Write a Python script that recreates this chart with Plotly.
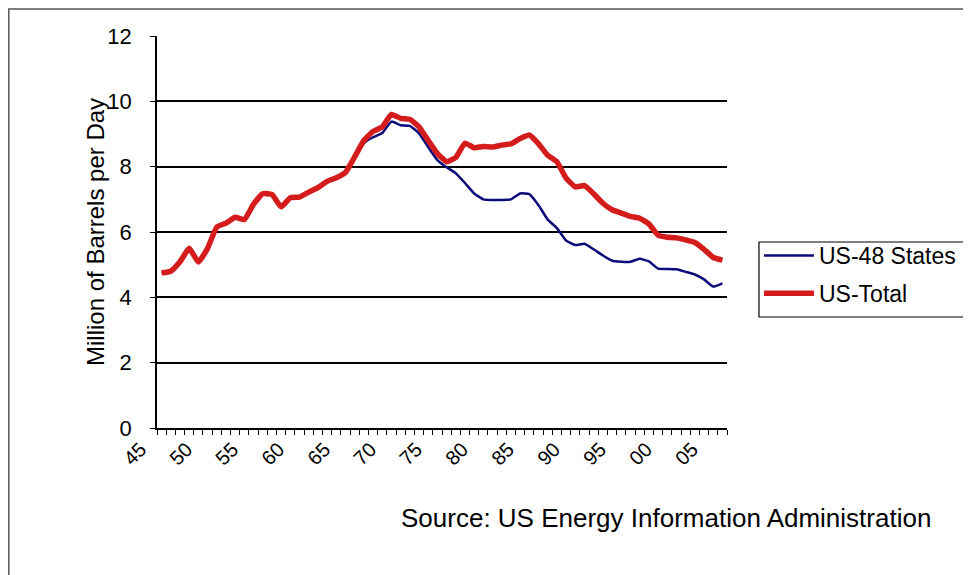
import plotly.graph_objects as go

years = list(range(1945, 2007))

us_total = [4.75, 4.80, 5.09, 5.50, 5.08, 5.50, 6.15, 6.27, 6.45, 6.38,
            6.85, 7.17, 7.15, 6.77, 7.05, 7.07, 7.22, 7.36, 7.55, 7.66,
            7.82, 8.30, 8.80, 9.08, 9.22, 9.60, 9.48, 9.45, 9.22, 8.80,
            8.40, 8.15, 8.28, 8.72, 8.58, 8.62, 8.60, 8.66, 8.70, 8.86,
            8.97, 8.70, 8.35, 8.15, 7.65, 7.38, 7.42, 7.17, 6.88, 6.68,
            6.58, 6.48, 6.42, 6.25, 5.90, 5.84, 5.82, 5.76, 5.68, 5.47,
            5.22, 5.14]

us_48 = [4.75, 4.80, 5.09, 5.50, 5.08, 5.50, 6.15, 6.27, 6.45, 6.38,
         6.85, 7.17, 7.15, 6.77, 7.05, 7.06, 7.20, 7.33, 7.52, 7.63,
         7.79, 8.26, 8.72, 8.90, 9.03, 9.38, 9.27, 9.25, 9.02, 8.60,
         8.20, 7.98, 7.80, 7.50, 7.18, 7.00, 6.98, 6.98, 7.00, 7.18,
         7.16, 6.82, 6.38, 6.12, 5.74, 5.60, 5.64, 5.47, 5.28, 5.12,
         5.09, 5.09, 5.18, 5.10, 4.88, 4.87, 4.86, 4.78, 4.70, 4.55,
         4.33, 4.43]

tick_years = [1945, 1950, 1955, 1960, 1965, 1970, 1975, 1980, 1985, 1990, 1995, 2000, 2005]
tick_text = ["45", "50", "55", "60", "65", "70", "75", "80", "85", "90", "95", "00", "05"]

FONT = "Liberation Sans, Arial, Helvetica, sans-serif"

fig = go.Figure()
fig.add_trace(go.Scatter(
    x=years, y=us_48, name="US-48 States", mode="lines", legendgroup="a",
    line=dict(color="#0b0b7a", width=2.5, shape="spline", smoothing=0.4)))
fig.add_trace(go.Scatter(
    x=years, y=us_total, name="US-Total", mode="lines", legendgroup="b",
    line=dict(color="#d41c1c", width=5.5, shape="spline", smoothing=0.4)))

fig.update_layout(
    width=971, height=575,
    margin=dict(l=149, r=252, t=28, b=155),
    paper_bgcolor="white", plot_bgcolor="white",
    font=dict(family=FONT, color="black"),
    showlegend=True,
    legend=dict(x=1.0561, y=0.4949, xanchor="left", yanchor="top",
                borderwidth=0, bgcolor="rgba(0,0,0,0)",
                itemwidth=50, tracegroupgap=5, traceorder="grouped",
                font=dict(size=23, family=FONT, color="black")),
    xaxis=dict(range=[1944.5, 2006.5], tickvals=tick_years, ticktext=tick_text,
               tickangle=-45, ticks="", showline=True, linecolor="black", linewidth=1.5,
               showgrid=False, zeroline=False, ticklabelshift=-21,
               tickfont=dict(size=20, family=FONT, color="black"),
               minor=dict(ticks="outside", ticklen=5, tickcolor="black", tickwidth=1,
                          tick0=1944.5, dtick=1, showgrid=False)),
    yaxis=dict(range=[0, 12], dtick=2, ticks="outside", ticklen=5, tickcolor="black",
               showline=True, linecolor="black", linewidth=1.5,
               showgrid=True, gridcolor="black", gridwidth=1.5, zeroline=False,
               tickfont=dict(size=22, family=FONT, color="black"),
               ticklabelstandoff=14),
    annotations=[
        dict(text="Million of Barrels per Day", textangle=-90,
             xref="paper", yref="paper", x=-0.1088, y=0.5,
             xanchor="center", yanchor="middle", showarrow=False,
             font=dict(size=24, family=FONT, color="black")),
        dict(text="Source: US Energy Information Administration",
             xref="paper", yref="paper", x=0.893, y=-0.2296,
             xanchor="center", yanchor="middle", showarrow=False,
             font=dict(size=26, family=FONT, color="black"))],
    shapes=[
        dict(type="rect", xref="paper", yref="paper",
             x0=-0.2600, x1=1.45, y0=-0.45, y1=1.069,
             line=dict(color="#555555", width=1.5), layer="below"),
        dict(type="rect", xref="paper", yref="paper",
             x0=1.0561, x1=1.4228, y0=0.2832, y1=0.4745,
             line=dict(color="black", width=1.2), fillcolor="white", layer="below")],
)

fig.write_html("out.html")
